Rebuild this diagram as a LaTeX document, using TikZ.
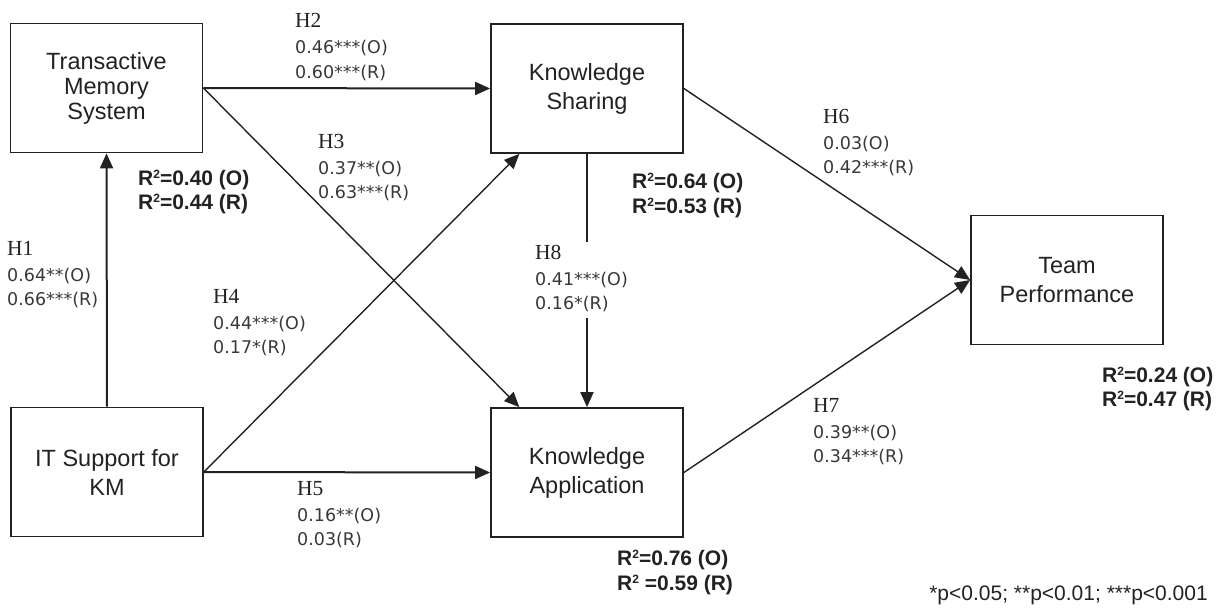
\documentclass[tikz,border=0pt]{standalone}
\usepackage{fontspec}
\setmainfont{Liberation Sans}
\newfontfamily\hfont{Liberation Serif}
\newfontfamily\cfont{DejaVu Sans}
\usetikzlibrary{arrows.meta,calc}
\definecolor{ink}{HTML}{222222}
\definecolor{coefgray}{HTML}{383838}
\newcommand\sqr{\raisebox{6.5pt}{\fontsize{12}{12}\selectfont 2}}
\begin{document}
\begin{tikzpicture}[x=1pt,y=-1pt,
  box/.style={draw=ink, line width=1.8pt, minimum width=192pt, minimum height=129pt,
    inner sep=0pt, align=center, text=ink, font=\fontsize{23.5}{29}\selectfont},
  conn/.style={draw=ink, line width=2pt},
  diag/.style={draw=ink, line width=1.4pt},
  tip/.style={-{Triangle[length=15pt,width=13pt]}},
  hl/.style={anchor=base west, inner sep=0pt, font=\hfont\fontsize{21.5}{21.5}\selectfont, text=ink},
  cl/.style={anchor=base west, inner sep=0pt, font=\cfont\fontsize{17.5}{17.5}\selectfont, text=coefgray},
  rl/.style={anchor=base west, inner sep=0pt, font=\bfseries\fontsize{21}{21}\selectfont, text=ink},
  fn/.style={anchor=base east, inner sep=0pt, font=\fontsize{21}{21}\selectfont, text=ink}
]
\useasboundingbox (0,0) rectangle (1219,610);

% boxes
\node[box, font=\fontsize{23.5}{25}\selectfont] (tms) at (106.5,88) {Transactive\\Memory\\System};
\node[box] (ks) at (587,88.5) {Knowledge\\Sharing};
\node[box] (its) at (107,472) {IT Support for\\KM};
\node[box] (ka) at (587,472.5) {Knowledge\\Application};
\node[box] (tp) at (1067,280) {Team\\Performance};

% connectors
\draw[conn,tip] (its.north) -- (tms.south);
\draw[conn,tip] (tms.east) -- (ks.west);
\draw[conn,tip] (its.east) -- (ka.west);
\draw[diag,tip] (tms.east) -- ($(ka.north west)!0.151!(ka.north east)$);
\draw[diag,tip] (its.east) -- ($(ks.south west)!0.151!(ks.south east)$);
\draw[diag,tip] (ks.east) -- (tp.west);
\draw[diag,tip] (ka.east) -- (tp.west);
\coordinate (h8a) at (587,242);
\coordinate (h8b) at (587,318);
\draw[conn] (ks.south) -- (h8a);
\draw[conn,tip] (h8b) -- (ka.north);

% hypothesis labels
\newcommand\hyplabel[6]{%
  \node[hl] (#1h) at (#2,#3) {#4};
  \node[cl] (#1o) at (#2,#3+26) {#5};
  \node[cl] (#1r) at (#2,#3+50) {#6};}
\hyplabel{hone}{7}{255}{H1}{0.64**(O)}{0.66***(R)}
\hyplabel{htwo}{295}{28}{H2}{0.46***(O)}{0.60***(R)}
\hyplabel{hthree}{318}{148}{H3}{0.37**(O)}{0.63***(R)}
\hyplabel{hfour}{213}{303}{H4}{0.44***(O)}{0.17*(R)}
\hyplabel{hfive}{297}{495}{H5}{0.16**(O)}{0.03(R)}
\hyplabel{hsix}{823}{123}{H6}{0.03(O)}{0.42***(R)}
\hyplabel{hseven}{813}{412}{H7}{0.39**(O)}{0.34***(R)}
\hyplabel{height}{535}{259}{H8}{0.41***(O)}{0.16*(R)}

% R^2 labels
\node[rl] (rtmsa) at (138,185) {R\sqr=0.40 (O)};
\node[rl] (rtmsb) at (138,209) {R\sqr=0.44 (R)};
\node[rl] (rksa) at (632,188) {R\sqr=0.64 (O)};
\node[rl] (rksb) at (632,213) {R\sqr=0.53 (R)};
\node[rl] (rtpa) at (1102,382) {R\sqr=0.24 (O)};
\node[rl] (rtpb) at (1102,406) {R\sqr=0.47 (R)};
\node[rl] (rkaa) at (617,565) {R\sqr=0.76 (O)};
\node[rl] (rkab) at (617,590) {R\sqr{} =0.59 (R)};

% footnote
\node[fn] (note) at (1208,600) {*p<0.05; **p<0.01; ***p<0.001};
\end{tikzpicture}
\end{document}
